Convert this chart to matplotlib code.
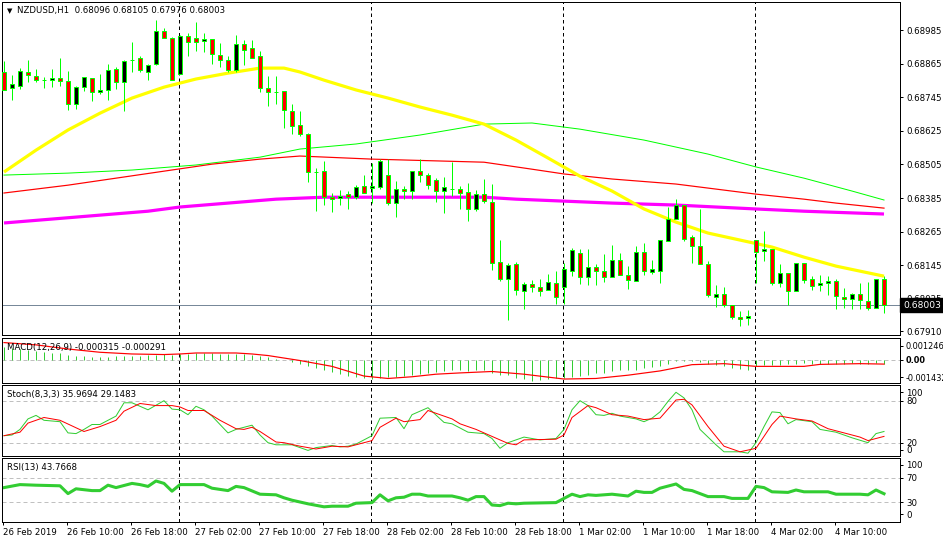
import matplotlib
matplotlib.use("Agg")
import matplotlib.pyplot as plt
import matplotlib.transforms as mtransforms
import numpy as np

plt.rcParams['font.family'] = ['DejaVu Sans']
FS = 6.2

# ---------------- data ----------------
open_ = [0.68835,0.68778,0.68785,0.68835,0.68821,0.68805,0.68806,0.68813,0.68803,0.68721,
         0.68781,0.68813,0.68763,0.68771,0.68846,0.68799,0.68877,0.68885,0.68835,0.68863,
         0.68981,0.68956,0.68828,0.68963,0.68956,0.68946,0.68953,0.68896,0.68878,0.68842,
         0.68935,0.68921,0.68892,0.68778,0.68764,0.68767,0.68696,0.68646,0.68613,0.68478,
         0.68481,0.68388,0.68385,0.68399,0.68388,0.68428,0.68421,0.68424,0.68467,0.68367,
         0.68417,0.68410,0.68481,0.68467,0.68449,0.68410,0.68416,0.68417,0.68406,0.68346,
         0.68399,0.68371,0.68156,0.68096,0.68149,0.68053,0.68078,0.68067,0.68056,0.68081,
         0.68067,0.68124,0.68188,0.68103,0.68138,0.68124,0.68103,0.68163,0.68110,0.68088,
         0.68192,0.68121,0.68124,0.68231,0.68310,0.68360,0.68246,0.68213,0.68149,0.68031,
         0.68042,0.68003,0.67960,0.67956,0.68235,0.68196,0.68203,0.68081,0.68117,0.68053,
         0.68153,0.68096,0.68074,0.68081,0.68088,0.68031,0.68024,0.68042,0.68017,0.67992,
         0.68096]
high = [0.68874,0.68824,0.68849,0.68878,0.68846,0.68817,0.68846,0.68885,0.68838,0.68785,
        0.68817,0.68813,0.68828,0.68863,0.68853,0.68878,0.68942,0.68892,0.68863,0.69021,
        0.68992,0.68960,0.68967,0.68974,0.69013,0.68974,0.68953,0.68938,0.68892,0.68967,
        0.68949,0.68949,0.68910,0.68821,0.68821,0.68767,0.68721,0.68696,0.68617,0.68492,
        0.68517,0.68403,0.68413,0.68410,0.68431,0.68467,0.68510,0.68524,0.68524,0.68446,
        0.68428,0.68481,0.68524,0.68474,0.68456,0.68460,0.68513,0.68428,0.68438,0.68413,
        0.68453,0.68435,0.68235,0.68153,0.68156,0.68085,0.68092,0.68096,0.68113,0.68124,
        0.68153,0.68206,0.68203,0.68203,0.68149,0.68185,0.68217,0.68188,0.68142,0.68213,
        0.68224,0.68163,0.68235,0.68353,0.68381,0.68360,0.68253,0.68346,0.68160,0.68074,
        0.68067,0.68003,0.67981,0.67985,0.68235,0.68267,0.68203,0.68149,0.68117,0.68153,
        0.68153,0.68106,0.68110,0.68106,0.68096,0.68063,0.68046,0.68081,0.68085,0.68096,
        0.68105]
low = [0.68771,0.68735,0.68774,0.68799,0.68799,0.68778,0.68781,0.68785,0.68699,0.68703,
       0.68767,0.68731,0.68756,0.68735,0.68774,0.68696,0.68835,0.68835,0.68806,0.68860,
       0.68956,0.68806,0.68828,0.68892,0.68910,0.68906,0.68863,0.68853,0.68835,0.68835,
       0.68860,0.68885,0.68763,0.68713,0.68721,0.68635,0.68613,0.68606,0.68442,0.68338,
       0.68360,0.68335,0.68360,0.68346,0.68381,0.68403,0.68367,0.68417,0.68360,0.68317,
       0.68381,0.68381,0.68442,0.68417,0.68371,0.68331,0.68392,0.68346,0.68303,0.68338,
       0.68367,0.68128,0.68088,0.67949,0.68039,0.67989,0.68049,0.68035,0.68056,0.68006,
       0.68006,0.68106,0.68078,0.68074,0.68074,0.68085,0.68103,0.68110,0.68060,0.68088,
       0.68110,0.68113,0.68081,0.68231,0.68310,0.68231,0.68153,0.68149,0.68031,0.67996,
       0.67996,0.67953,0.67928,0.67931,0.68081,0.68160,0.68074,0.68067,0.68003,0.68053,
       0.68081,0.68056,0.68053,0.68039,0.67989,0.67992,0.67989,0.67989,0.67985,0.67992,
       0.67976]
close = [0.68771,0.68792,0.68838,0.68824,0.68806,0.68807,0.68813,0.68803,0.68721,0.68781,
         0.68817,0.68763,0.68771,0.68842,0.68799,0.68874,0.68879,0.68842,0.68860,0.68981,
         0.68956,0.68806,0.68963,0.68942,0.68942,0.68953,0.68899,0.68878,0.68842,0.68935,
         0.68913,0.68885,0.68778,0.68763,0.68763,0.68699,0.68642,0.68613,0.68478,0.68477,
         0.68388,0.68381,0.68392,0.68388,0.68424,0.68403,0.68428,0.68517,0.68367,0.68417,
         0.68410,0.68481,0.68467,0.68431,0.68410,0.68424,0.68418,0.68403,0.68346,0.68399,
         0.68374,0.68153,0.68096,0.68146,0.68056,0.68078,0.68067,0.68053,0.68085,0.68031,
         0.68131,0.68199,0.68103,0.68138,0.68124,0.68103,0.68163,0.68110,0.68092,0.68192,
         0.68124,0.68131,0.68235,0.68310,0.68360,0.68238,0.68213,0.68149,0.68039,0.68042,
         0.68003,0.67960,0.67953,0.67963,0.68192,0.68203,0.68081,0.68117,0.68053,0.68153,
         0.68092,0.68071,0.68081,0.68088,0.68035,0.68024,0.68042,0.68021,0.67992,0.68096,
         0.68003]

yellow_idx = [0,4,8,12,16,20,24,28,32,35,37,40,44,48,52,56,60,64,68,72,76,80,84,88,92,96,100,104,110]
yellow_ma = [0.68478,0.68556,0.68628,0.68688,0.68742,0.68781,0.68810,0.68831,0.68849,0.68849,
             0.68835,0.68806,0.68771,0.68742,0.68710,0.68681,0.68649,0.68592,0.68528,0.68463,
             0.68410,0.68346,0.68299,0.68260,0.68235,0.68210,0.68174,0.68142,0.68106]
green_idx = [0,8,16,24,28,32,37,44,52,60,66,72,80,88,94,100,106,110]
green_ma = [0.68467,0.68474,0.68485,0.68503,0.68517,0.68531,0.68560,0.68578,0.68610,0.68649,
            0.68653,0.68631,0.68592,0.68542,0.68496,0.68456,0.68410,0.68378]
red_idx = [0,4,8,14,20,26,32,37,46,60,66,70,76,84,94,100,104,110]
red_ma = [0.68403,0.68417,0.68431,0.68456,0.68481,0.68506,0.68524,0.68535,0.68524,0.68513,
          0.68488,0.68471,0.68453,0.68435,0.68399,0.68381,0.68367,0.68349]
magenta_idx = [0,6,12,18,22,28,34,40,60,64,70,76,84,94,100,110]
magenta_ma = [0.68296,0.68310,0.68324,0.68338,0.68353,0.68367,0.68381,0.68388,0.68388,0.68381,
              0.68374,0.68367,0.68360,0.68346,0.68338,0.68328]

macd_hist = [87,82,78,71,64,57,50,46,37,30,25,23,23,23,25,25,27,30,32,37,
             39,37,41,43,46,46,46,43,41,41,39,37,27,18,9,-2,-16,-27,-41,-55,
             -73,-87,-101,-114,-124,-131,-133,-126,-124,-119,-117,-110,-101,-92,-85,-78,-73,-69,-78,-69,
             -73,-96,-110,-110,-131,-137,-147,-142,-137,-131,-131,-119,-112,-108,-96,-92,-78,-73,-73,-69,
             -55,-50,-41,-27,-9,-5,-9,-18,-27,-37,-46,-55,-62,-69,-46,-37,-37,-37,-32,-27,
             -23,-27,-27,-27,-27,-27,-23,-27,-32,-23,-32]  # x 1e-5
signal_idx = [0,4,8,12,16,20,22,24,29,31,33,37,41,45,48,51,54,57,61,65,70,74,78,82,86,90,94,100,102,107,110]
signal_val = [121,105,76,53,41,37,41,48,48,41,30,-5,-46,-114,-131,-119,-101,-92,-82,-101,
              -135,-131,-108,-78,-34,-27,-46,-46,-32,-27,-30]  # x 1e-5

stoch_k_idx = [0,1,2,3,4,5,7,8,9,10,11,12,14,15,16,18,20,21,22,23,24,25,26,28,29,31,32,33,34,36,
               38,39,41,42,43,44,46,47,49,50,51,53,55,56,58,60,61,62,63,65,67,69,70,71,72,73,74,75,76,77,
               79,80,81,82,83,84,85,86,87,89,90,92,93,94,95,96,97,98,99,101,102,104,105,106,108,109,110]
stoch_k = [30,31,39,54,59,52,50,34,33,39,46,46,58,77,77,67,80,68,67,60,72,67,58,34,39,45,31,20,17,17,
           9,13,16,14,15,18,30,55,56,40,60,70,49,47,35,33,26,12,20,28,24,26,39,67,80,73,60,59,62,58,
           54,50,55,64,79,92,84,67,39,17,7,7,5,20,43,64,63,47,53,50,39,35,31,27,20,33,36]
stoch_d_idx = [0,2,3,5,7,10,12,14,15,17,19,21,22,23,25,27,29,30,31,32,34,35,37,39,41,43,46,47,49,50,
               52,53,56,57,59,61,63,64,65,69,70,71,73,74,76,78,80,82,84,85,86,88,89,90,92,94,95,96,97,99,
               101,103,105,107,108,110]
stoch_d = [30,35,48,56,52,36,43,52,65,76,73,73,71,66,66,52,40,39,42,36,21,20,15,11,15,14,23,42,55,50,
           53,66,54,47,39,29,19,17,24,25,31,56,73,70,60,58,53,55,81,82,74,43,29,15,7,12,29,46,58,54,
           51,40,34,28,23,29]

rsi_idx = [0,2,4,7,8,9,11,12,13,14,16,17,18,19,20,21,22,25,26,28,29,30,32,34,35,36,38,40,41,43,
           44,46,47,48,49,50,51,52,53,56,57,58,59,60,61,62,63,64,65,69,70,71,72,73,74,76,78,79,80,81,
           82,84,85,86,88,90,91,93,94,95,96,98,99,100,103,104,107,108,109,110]
rsi = [54,59,58,57,44,52,49,49,58,54,61,59,56,65,61,48,59,59,53,49,56,54,43,42,37,33,27,22,23,23,
       28,29,42,32,37,38,43,43,40,40,37,33,39,39,25,24,28,27,28,29,36,43,39,42,41,43,40,48,46,46,
       53,60,51,49,39,39,36,36,56,54,47,46,50,47,47,43,43,42,50,43.8]

time_labels = ["26 Feb 2019", "26 Feb 10:00", "26 Feb 18:00", "27 Feb 02:00", "27 Feb 10:00",
               "27 Feb 18:00", "28 Feb 02:00", "28 Feb 10:00", "28 Feb 18:00", "1 Mar 02:00",
               "1 Mar 10:00", "1 Mar 18:00", "4 Mar 02:00", "4 Mar 10:00"]
separator_bars = [22, 46, 70, 94]
price_ticks = [0.68985, 0.68865, 0.68745, 0.68625, 0.68505, 0.68385, 0.68265, 0.68145, 0.68025, 0.67910]
last_price = 0.68003

# ---------------- layout ----------------
W, H = 943, 542
fig = plt.figure(figsize=(W / 100, H / 100), dpi=100)
fig.patch.set_facecolor('white')

def rect(x0, y0, x1, y1):
    return [x0 / W, 1 - y1 / H, (x1 - x0) / W, (y1 - y0) / H]

ax = fig.add_axes(rect(2, 2, 900, 335))
axm = fig.add_axes(rect(2, 338, 900, 383))
axs = fig.add_axes(rect(2, 385, 900, 456))
axr = fig.add_axes(rect(2, 458, 900, 522))
axes = [ax, axm, axs, axr]

n = len(open_)
idx = np.arange(n)
o = np.array(open_); c = np.array(close); hi = np.array(high); lo = np.array(low)

LW1 = 0.72  # 1 px
DASH = (0, (4, 3))

for a in axes:
    a.set_xlim(-0.25, 112)
    for s in a.spines.values():
        s.set_linewidth(LW1)
        s.set_color('black')
    a.yaxis.tick_right()
    a.tick_params(axis='y', length=2.5, width=LW1, pad=1.8, labelsize=FS, colors='black')
    a.tick_params(axis='x', bottom=False, labelbottom=False)
    for sb in separator_bars:
        a.axvline(sb - 0.12, color='black', lw=LW1, ls=(0, (3.5, 3)), zorder=1)

# ---- main price panel ----
ax.set_ylim(0.67896, 0.69085)
ax.axhline(last_price, color='#778899', lw=LW1, zorder=1)
ax.plot(green_idx, green_ma, color='#00FF00', lw=LW1, zorder=2)
ax.plot(red_idx, red_ma, color='#FF0000', lw=LW1 * 1.2, zorder=2)
ax.plot(magenta_idx, magenta_ma, color='#FF00FF', lw=2.3, zorder=2, solid_capstyle='butt')
ax.plot(yellow_idx, yellow_ma, color='#FFFF00', lw=2.3, zorder=2, solid_capstyle='butt')

up = c > o
ax.vlines(idx, lo, hi, color='#00FF00', lw=LW1, zorder=3)
ax.bar(idx, np.abs(c - o), bottom=np.minimum(o, c), width=0.5,
       color=np.where(up, 'black', 'red'), edgecolor='#00FF00', linewidth=LW1, zorder=4)

ax.set_yticks(price_ticks)
ax.set_yticklabels([f"{v:.5f}" for v in price_ticks])
trans = mtransforms.blended_transform_factory(ax.transAxes, ax.transData)
ax.text(1.0 + 3 / 898, last_price, f"{last_price:.5f}", transform=trans, color='white',
        fontsize=FS + 0.4, va='center', ha='left', clip_on=False, zorder=10,
        bbox=dict(boxstyle='square,pad=0.3', facecolor='black', edgecolor='black'))

fig.text(7 / W, 1 - 11 / H, '▼', fontsize=5, va='center', ha='left')
fig.text(17 / W, 1 - 11 / H, 'NZDUSD,H1  0.68096 0.68105 0.67976 0.68003',
         fontsize=FS, va='center', ha='left')

# ---- MACD panel ----
sc = 1e-5
axm.set_ylim(-0.001628, 0.001532)
axm.axhline(0, color='#C0C0C0', lw=LW1, ls=DASH, zorder=1)
axm.vlines(idx, 0, np.array(macd_hist) * sc, color='#32CD32', lw=LW1, zorder=2)
axm.plot(signal_idx, np.array(signal_val) * sc, color='#FF0000', lw=LW1 * 1.2, zorder=3)
axm.set_yticks([0.000982, 0, -0.001216])
axm.set_yticklabels(['0.001246', '0.00', '-0.001432'])
axm.tick_params(axis='y', labelsize=5.9, pad=1.2)
axm.get_yticklabels()[1].set_fontweight('bold')
axm.text(5 / 898, 0.78, 'MACD(12,26,9) -0.000315 -0.000291', transform=axm.transAxes,
         fontsize=FS, va='center', ha='left', zorder=5)

# ---- Stochastic panel ----
axs.set_ylim(1.0, 102.4)
for lv in (80, 20):
    axs.axhline(lv, color='#C0C0C0', lw=LW1, ls=DASH, zorder=1)
axs.plot(stoch_k_idx, stoch_k, color='#32CD32', lw=LW1, zorder=2)
axs.plot(stoch_d_idx, stoch_d, color='#FF0000', lw=LW1, zorder=3)
axs.set_yticks([92, 80, 20, 9.6])
axs.set_yticklabels(['100', '80', '20', '0'])
axs.text(5 / 898, 0.87, 'Stoch(8,3,3) 35.9694 29.1483', transform=axs.transAxes,
         fontsize=FS, va='center', ha='left', zorder=5)

# ---- RSI panel ----
axr.set_ylim(-3.3, 103.3)
for lv in (70, 30):
    axr.axhline(lv, color='#C0C0C0', lw=LW1, ls=DASH, zorder=1)
axr.plot(rsi_idx, rsi, color='#32CD32', lw=2.2, zorder=2)
axr.set_yticks([91.7, 70, 30, 9.4])
axr.set_yticklabels(['100', '70', '30', '0'])
axr.text(5 / 898, 0.85, 'RSI(13) 43.7668', transform=axr.transAxes,
         fontsize=FS, va='center', ha='left', zorder=5)

tick_pos = np.arange(0, n, 8) - 0.12
axr.set_xticks(tick_pos)
axr.set_xticklabels(time_labels)
axr.tick_params(axis='x', bottom=True, labelbottom=True, length=2.5, width=LW1,
                pad=1.5, labelsize=FS, direction='out')
for lbl in axr.get_xticklabels():
    lbl.set_ha('left')

fig.savefig('out.png', dpi=100, facecolor='white')
